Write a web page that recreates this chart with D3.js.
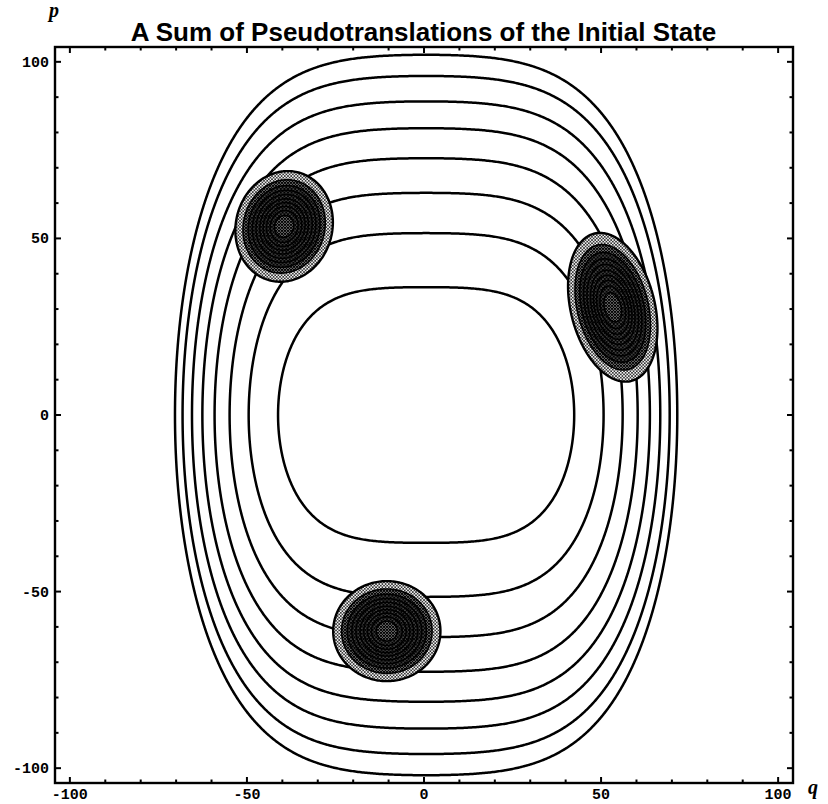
<!DOCTYPE html>
<html>
<head>
<meta charset="utf-8">
<script src="https://cdn.jsdelivr.net/npm/d3@7"></script>
<style>
  body { margin: 0; background: #fff; }
  svg { display: block; }
</style>
</head>
<body>
<svg id="chart" width="828" height="804"></svg>
<script>
// Classical orbits of H(q, p) = p^2 (1 + c q^2) + a q^2 + b q^4, each one
// given by the momentum at which it crosses the orbit centre line.
const orbitTopP = [36.2, 51.5, 62.9, 72.7, 81.2, 88.8, 96.0, 102.0];
const orbitCenterQ = 0.6;
const potentialA = 0.0466;
const potentialB = 4.02e-4;
const couplingC = 3.2e-5;

// Gaussian wave packets placed on the orbits.
const packetQ = [-39.5, 53.3, -10.5];
const packetP = [53.4, 30.5, -61.2];
const packetSigmaMajor = [7.2, 9.8, 6.9];
const packetSigmaMinor = [6.2, 5.4, 6.45];
const packetAngle = [15, -14, 90];   // degrees, major axis measured from the p axis
const packetLevels = [0.09, 0.18, 0.27, 0.36, 0.45, 0.55, 0.64, 0.73, 0.82, 0.91];

const axisTicks = [-100, -50, 0, 50, 100];
const minorTicks = d3.range(-100, 101, 10);
const titleText = "A Sum of Pseudotranslations of the Initial State";

const svg = d3.select("#chart");
const plot = { left: 55, right: 793, top: 47, bottom: 783 };
const domain = [-104.2, 104.2];

const x = d3.scaleLinear().domain(domain).range([plot.left, plot.right]);
const y = d3.scaleLinear().domain(domain).range([plot.bottom, plot.top]);

// ---- halftone fills ----
const defs = svg.append("defs");
function dotPattern(id, size, r, bg, fg) {
  const p = defs.append("pattern").attr("id", id).attr("patternUnits", "userSpaceOnUse")
    .attr("width", size).attr("height", size);
  p.append("rect").attr("width", size).attr("height", size).attr("fill", bg);
  [[size / 2, size / 2], [0, 0], [size, 0], [0, size], [size, size]].forEach(([cx, cy]) =>
    p.append("circle").attr("cx", cx).attr("cy", cy).attr("r", r).attr("fill", fg));
}
dotPattern("light", 3.2, 0.9, "#fff", "#111");
dotPattern("medium", 3, 1.15, "#fff", "#000");
dotPattern("dark", 3.6, 0.55, "#000", "#fff");
const bandFill = ["url(#light)", "url(#medium)", "url(#dark)", "url(#dark)", "url(#dark)",
                  "url(#dark)", "url(#dark)", "url(#dark)", "url(#dark)", "url(#medium)"];

defs.append("clipPath").attr("id", "plotClip")
  .append("rect").attr("x", plot.left).attr("y", plot.top)
  .attr("width", plot.right - plot.left).attr("height", plot.bottom - plot.top);

// ---- sampled grid over phase space ----
const step = 0.4;
const n = Math.round((domain[1] - domain[0]) / step) + 1;
const gridQ = i => domain[0] + i * step;
const gridP = j => domain[1] - j * step;

const energy = new Float64Array(n * n);
const density = new Float64Array(n * n);
const packets = packetQ.map((q0, k) => {
  const t = packetAngle[k] * Math.PI / 180;
  return { q0, p0: packetP[k], s: Math.sin(t), c: Math.cos(t),
           sM: packetSigmaMajor[k], sm: packetSigmaMinor[k] };
});
for (let j = 0; j < n; j++) {
  const p = gridP(j);
  for (let i = 0; i < n; i++) {
    const q = gridQ(i);
    const r = q - orbitCenterQ, r2 = r * r;
    energy[j * n + i] = p * p * (1 + couplingC * r2) + potentialA * r2 + potentialB * r2 * r2;
    let v = 0;
    for (const w of packets) {
      const dq = q - w.q0, dp = p - w.p0;
      const u = dq * w.s + dp * w.c;
      const m = dq * w.c - dp * w.s;
      v += Math.exp(-(u * u) / (2 * w.sM * w.sM) - (m * m) / (2 * w.sm * w.sm));
    }
    density[j * n + i] = v;
  }
}

// grid coordinates -> pixels through the axis scales
const toPixels = d3.geoTransform({
  point(gx, gy) {
    this.stream.point(x(gridQ(gx - 0.5)), y(gridP(gy - 0.5)));
  }
});
const path = d3.geoPath(toPixels);

const layer = svg.append("g").attr("clip-path", "url(#plotClip)");

// orbits
const orbitContours = d3.contours().size([n, n])
  .thresholds(orbitTopP.map(v => v * v))(energy);
layer.append("g").selectAll("path").data(orbitContours).join("path")
  .attr("d", path).attr("fill", "none").attr("stroke", "#000")
  .attr("stroke-width", 2.5).attr("stroke-linejoin", "round");

// wave packets
const packetContours = d3.contours().size([n, n]).thresholds(packetLevels)(density);
layer.append("g").selectAll("path").data(packetContours).join("path")
  .attr("d", path).attr("fill", (d, k) => bandFill[k])
  .attr("stroke", "#000").attr("stroke-width", (d, k) => (k === 0 ? 2.4 : 1.6))
  .attr("stroke-linejoin", "round");

// ---- frame and ticks ----
const frame = svg.append("g").attr("stroke", "#000").attr("fill", "none");
frame.append("rect").attr("x", plot.left).attr("y", plot.top)
  .attr("width", plot.right - plot.left).attr("height", plot.bottom - plot.top)
  .attr("stroke-width", 2.4);

const tickLen = v => (v % 50 === 0 ? 6 : 3.5);
minorTicks.forEach(v => {
  const L = tickLen(v);
  frame.append("line").attr("x1", x(v)).attr("x2", x(v))
    .attr("y1", plot.bottom).attr("y2", plot.bottom - L).attr("stroke-width", 2);
  frame.append("line").attr("x1", x(v)).attr("x2", x(v))
    .attr("y1", plot.top).attr("y2", plot.top + L).attr("stroke-width", 2);
  frame.append("line").attr("y1", y(v)).attr("y2", y(v))
    .attr("x1", plot.left).attr("x2", plot.left + L).attr("stroke-width", 2);
  frame.append("line").attr("y1", y(v)).attr("y2", y(v))
    .attr("x1", plot.right).attr("x2", plot.right - L).attr("stroke-width", 2);
});

const labelFont = "'Liberation Mono', 'DejaVu Sans Mono', monospace";
svg.append("g").selectAll("text").data(axisTicks).join("text")
  .attr("x", d => x(d)).attr("y", 799)
  .attr("text-anchor", "middle").attr("font-family", labelFont)
  .attr("font-size", 15).attr("font-weight", "bold").text(d => d);
svg.append("g").selectAll("text").data(axisTicks).join("text")
  .attr("x", 49).attr("y", d => y(d) + 5)
  .attr("text-anchor", "end").attr("font-family", labelFont)
  .attr("font-size", 15).attr("font-weight", "bold").text(d => d);

// ---- title and axis names ----
svg.append("text").attr("x", 423.5).attr("y", 41)
  .attr("text-anchor", "middle")
  .attr("font-family", "'Liberation Sans', Arial, sans-serif")
  .attr("font-weight", "bold").attr("font-size", 26)
  .text(titleText);
svg.append("text").attr("x", 49).attr("y", 17)
  .attr("font-family", "'Liberation Serif', serif").attr("font-style", "italic")
  .attr("font-weight", "bold").attr("font-size", 20).text("p");
svg.append("text").attr("x", 808).attr("y", 794)
  .attr("font-family", "'Liberation Serif', serif").attr("font-style", "italic")
  .attr("font-weight", "bold").attr("font-size", 20).text("q");
</script>
</body>
</html>
